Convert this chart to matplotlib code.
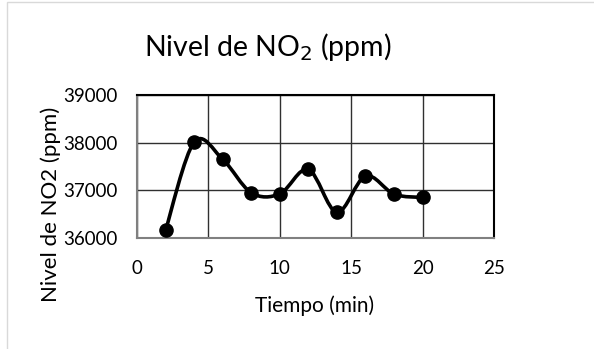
import numpy as np
import matplotlib
matplotlib.use('Agg')
import matplotlib.pyplot as plt
from matplotlib.path import Path
from matplotlib.patches import PathPatch, Rectangle

# Datos
tiempo = [2, 4, 6, 8, 10, 12, 14, 16, 18, 20]
no2 = [36160, 38010, 37650, 36950, 36925, 37440, 36540, 37300, 36920, 36850]
xticks = [0, 5, 10, 15, 20, 25]
yticks = [36000, 37000, 38000, 39000]

plt.rcParams['font.family'] = ['Lato', 'DejaVu Sans']

fig = plt.figure(figsize=(5.94, 3.49), dpi=100)
ax = fig.add_axes([137 / 594, 1 - 238 / 349, (494 - 137) / 594, (238 - 95) / 349])

# linea suavizada tipo Excel (Catmull-Rom -> Bezier)
pts = np.column_stack([tiempo, no2]).astype(float)
verts = [pts[0]]
codes = [Path.MOVETO]
n = len(pts)
for i in range(n - 1):
    p0 = pts[i - 1] if i > 0 else pts[i]
    p1 = pts[i]
    p2 = pts[i + 1]
    p3 = pts[i + 2] if i + 2 < n else pts[i + 1]
    c1 = p1 + (p2 - p0) / 6
    c2 = p2 - (p3 - p1) / 6
    verts += [c1, c2, p2]
    codes += [Path.CURVE4] * 3
ax.add_patch(PathPatch(Path(verts, codes), fill=False, color='black', lw=2.6, zorder=3))
ax.plot(tiempo, no2, 'o', color='black', markersize=9.5, zorder=4)

ax.set_xlim(0, 25)
ax.set_ylim(36000, 39000)
ax.set_xticks(xticks)
ax.set_yticks(yticks)
ax.grid(True, color='#303030', lw=1)
ax.tick_params(length=0, labelsize=13.5)
ax.tick_params(axis='x', pad=16)
ax.tick_params(axis='y', pad=14)
for s in ax.spines.values():
    s.set_color('black')
    s.set_linewidth(1.5)
ax.spines['left'].set_color('#808080')
ax.spines['bottom'].set_color('#808080')

ax.set_xlabel('Tiempo (min)', fontsize=15, va='center')
ax.set_ylabel('Nivel de NO2 (ppm)', fontsize=16, va='center')
ax.xaxis.set_label_coords((315 - 137) / 357, (238 - 306) / 143)
ax.yaxis.set_label_coords((51 - 137) / 357, (238 - 204) / 143)
fig.text(268 / 594, 1 - 47 / 349, 'Nivel de NO$_2$ (ppm)', fontsize=20.5,
         ha='center', va='center')

fig.patches.append(Rectangle((7 / 594, -0.01), 1.0, 1 - 2 / 349 + 0.01, transform=fig.transFigure,
                             fill=False, edgecolor='#d9d9d9', lw=1))

fig.savefig('out.png', dpi=100)
